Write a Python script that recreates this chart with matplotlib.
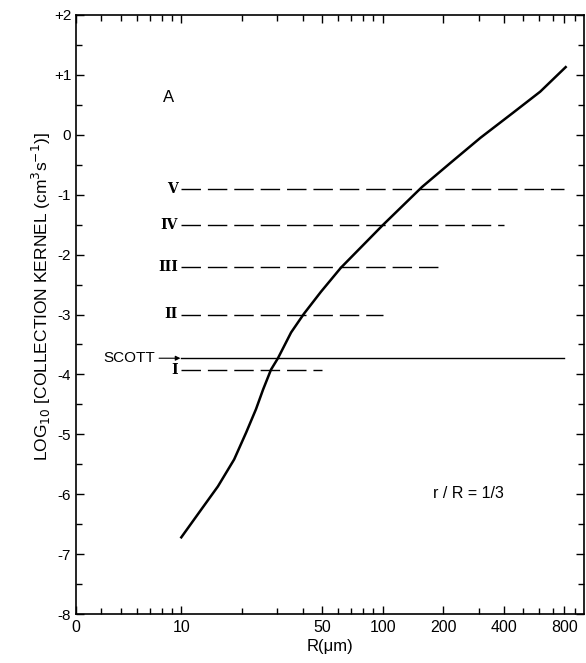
import numpy as np
import matplotlib
matplotlib.use("Agg")
import matplotlib.pyplot as plt
from matplotlib.ticker import FixedLocator, NullFormatter

plt.rcParams['font.family'] = ['Liberation Sans', 'DejaVu Sans']

# collection kernel curve
R = [10, 12.6, 15.2, 18.3, 21.0, 23.5, 25.5, 27.9, 30.2, 35.1, 40.6, 49.4,
     62, 100, 157, 217, 306, 445, 606, 811]
logK = [-6.72, -6.25, -5.87, -5.42, -4.97, -4.58, -4.25, -3.92, -3.73, -3.30,
        -2.99, -2.62, -2.22, -1.51, -0.87, -0.47, -0.05, 0.37, 0.72, 1.13]

# reference levels (roman labels), value and right end
levels = ['V', 'IV', 'III', 'II', 'I']
level_y = [-0.9, -1.5, -2.2, -3.0, -3.92]
level_end = [800, 400, 200, 100, 50]
scott_y = -3.73
scott_end = 800

xticks = [3, 10, 50, 100, 200, 400, 800]
xlabels = ['0', '10', '50', '100', '200', '400', '800']
yticks = [2, 1, 0, -1, -2, -3, -4, -5, -6, -7, -8]
ylabels = ['+2', '+1', '0', '-1', '-2', '-3', '-4', '-5', '-6', '-7', '-8']

fig = plt.figure(figsize=(5.86, 6.63), dpi=100)
ax = fig.add_axes([76/586, 1-614/663, 508/586, 599/663])
ax.set_xscale('log')
ax.set_xlim(3, 1000)
ax.set_ylim(-8, 2)

ax.plot(R, logK, color='black', lw=1.8, solid_joinstyle='round')

for lab, y, xe in zip(levels, level_y, level_end):
    ax.plot([10, xe], [y, y], color='black', lw=1.0, dashes=(14, 5))
    ax.text(9.6, y, lab, family='DejaVu Serif', fontsize=10, fontweight='bold',
            ha='right', va='center')

ax.plot([10, scott_end], [scott_y, scott_y], color='black', lw=1.0)
ax.annotate('SCOTT', xy=(9.9, scott_y), xytext=(7.4, scott_y),
            fontsize=11, ha='right', va='center',
            arrowprops=dict(arrowstyle='-|>', color='black', lw=0.8,
                            mutation_scale=7, shrinkA=1, shrinkB=0))

ax.text(8.6, 0.63, 'A', fontsize=12, ha='center', va='center')
ax.text(177, -5.98, 'r / R = 1/3', fontsize=11.5, ha='left', va='center')

ax.xaxis.set_major_locator(FixedLocator(xticks))
ax.set_xticklabels(xlabels)
minors = [v for d in [1, 10, 100] for v in np.arange(2, 10) * d
          if v > 3 and v < 1000 and v not in xticks]
ax.xaxis.set_minor_locator(FixedLocator(minors))
ax.xaxis.set_minor_formatter(NullFormatter())
ax.set_yticks(yticks)
ax.set_yticklabels(ylabels)
ax.set_yticks(np.arange(-7.5, 2, 1.0), minor=True)

ax.tick_params(which='both', direction='in', top=True, right=True)
ax.tick_params(axis='x', labelsize=11.5, pad=4)
ax.tick_params(axis='y', labelsize=11)
ax.tick_params(which='major', length=6, width=1)
ax.tick_params(which='minor', length=4, width=1)
for s in ax.spines.values():
    s.set_linewidth(1.2)

ax.set_xlabel('R(\u03bcm)', fontsize=12, labelpad=3)
ax.set_ylabel('LOG$_{10}$ [COLLECTION KERNEL (cm$^3$s$^{-1}$)]', fontsize=12.5)
ax.yaxis.set_label_coords(-0.045, 0.53)

fig.savefig('out.png', dpi=100)
